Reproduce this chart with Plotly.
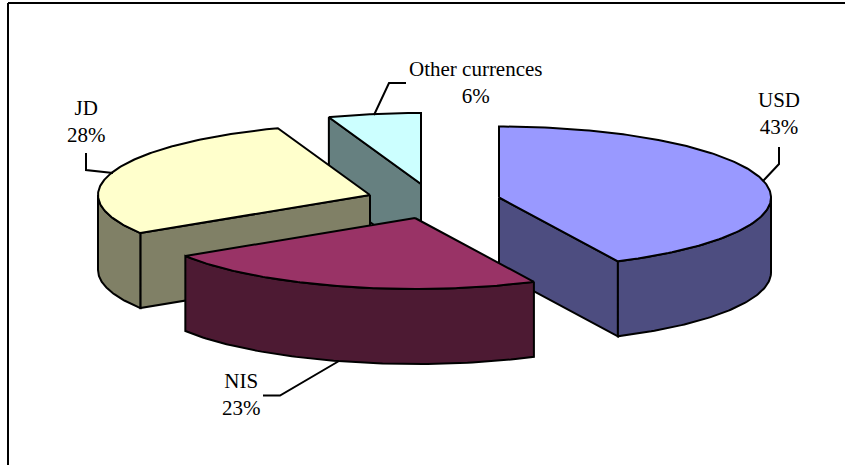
import numpy as np
import plotly.graph_objects as go

# Data (share of each currency, clockwise from 12 o'clock)
categories = ["USD", "NIS", "JD", "Other currences"]
values = [42.8, 23.2, 28.5, 5.5]

# Styles
top_colors = ["#9999FF", "#993366", "#FFFFCC", "#CCFFFF"]
side_colors = ["#4D4D80", "#4D1A33", "#808066", "#668080"]
FONT = "Liberation Serif"
LW = 2

# Projection geometry of the 3-D pie (pixels in the 845x465 frame)
RX, RY, DEPTH = 272, 71, 75
centers = [(499, 197.5), (415, 218), (370, 195), (421, 184)]   # exploded apexes
draw_order = [3, 2, 0, 1]                                      # back to front

# Label placement and leader lines (layout only)
label_pos = [(779, 113), (241, 394), (86, 121), (476, 82)]
leaders = [
    [(779, 147), (779, 164), (763, 181)],
    [(263, 395.5), (280, 395.5), (339, 361)],
    [(86, 153), (86, 170), (113, 173)],
    [(406, 83), (389, 83), (374, 115)],
]


def rim(cx, cy, t):
    r = np.radians(t)
    return cx + RX * np.sin(r), cy - RY * np.cos(r)


def add_poly(fig, xs, ys, color):
    fig.add_trace(go.Scatter(
        x=list(xs) + [xs[0]], y=list(ys) + [ys[0]], mode="lines", fill="toself",
        fillcolor=color, line=dict(color="black", width=LW), hoverinfo="skip",
        showlegend=False))


fig = go.Figure()
total = sum(values)
edges = np.concatenate([[0], np.cumsum(values)]) / total * 360

for i in draw_order:
    t0, t1 = edges[i], edges[i + 1]
    cx, cy = centers[i]
    # radial faces that look toward the viewer
    for t, visible in ((t0, 180 < t0 < 360), (t1, 0 < t1 < 180)):
        if visible:
            rx_, ry_ = rim(cx, cy, t)
            add_poly(fig, [cx, rx_, rx_, cx], [cy, ry_, ry_ + DEPTH, cy + DEPTH], side_colors[i])
    # outer wall: only the front half of the rim
    a, b = max(t0, 90), min(t1, 270)
    if b > a:
        ts = np.linspace(a, b, 80)
        wx, wy = rim(cx, cy, ts)
        add_poly(fig, np.r_[wx, wx[::-1]], np.r_[wy, wy[::-1] + DEPTH], side_colors[i])
    # top surface
    ts = np.linspace(t0, t1, 160)
    tx, ty = rim(cx, cy, ts)
    add_poly(fig, np.r_[cx, tx], np.r_[cy, ty], top_colors[i])

for i, name in enumerate(categories):
    pts = leaders[i]
    fig.add_trace(go.Scatter(
        x=[p[0] for p in pts], y=[p[1] for p in pts], mode="lines",
        line=dict(color="black", width=LW), hoverinfo="skip", showlegend=False))
    fig.add_annotation(
        x=label_pos[i][0], y=label_pos[i][1], xref="x", yref="y",
        text=f"{name}<br>{round(values[i])}%", showarrow=False,
        font=dict(family=FONT + ", 'Times New Roman', serif", size=21, color="black"),
        align="center")

# Chart frame: top and left edges only are visible in the crop
fig.add_shape(type="line", x0=8, x1=845, y0=3, y1=3, line=dict(color="black", width=2))
fig.add_shape(type="line", x0=8, x1=8, y0=3, y1=465, line=dict(color="black", width=2))

fig.update_layout(
    width=845, height=465, margin=dict(l=0, r=0, t=0, b=0),
    paper_bgcolor="white", plot_bgcolor="white", showlegend=False,
    xaxis=dict(range=[0, 845], visible=False, fixedrange=True),
    yaxis=dict(range=[465, 0], visible=False, fixedrange=True),
)

fig.write_html("out.html", config={"displayModeBar": False},
               post_script="document.body.style.margin='0';")
